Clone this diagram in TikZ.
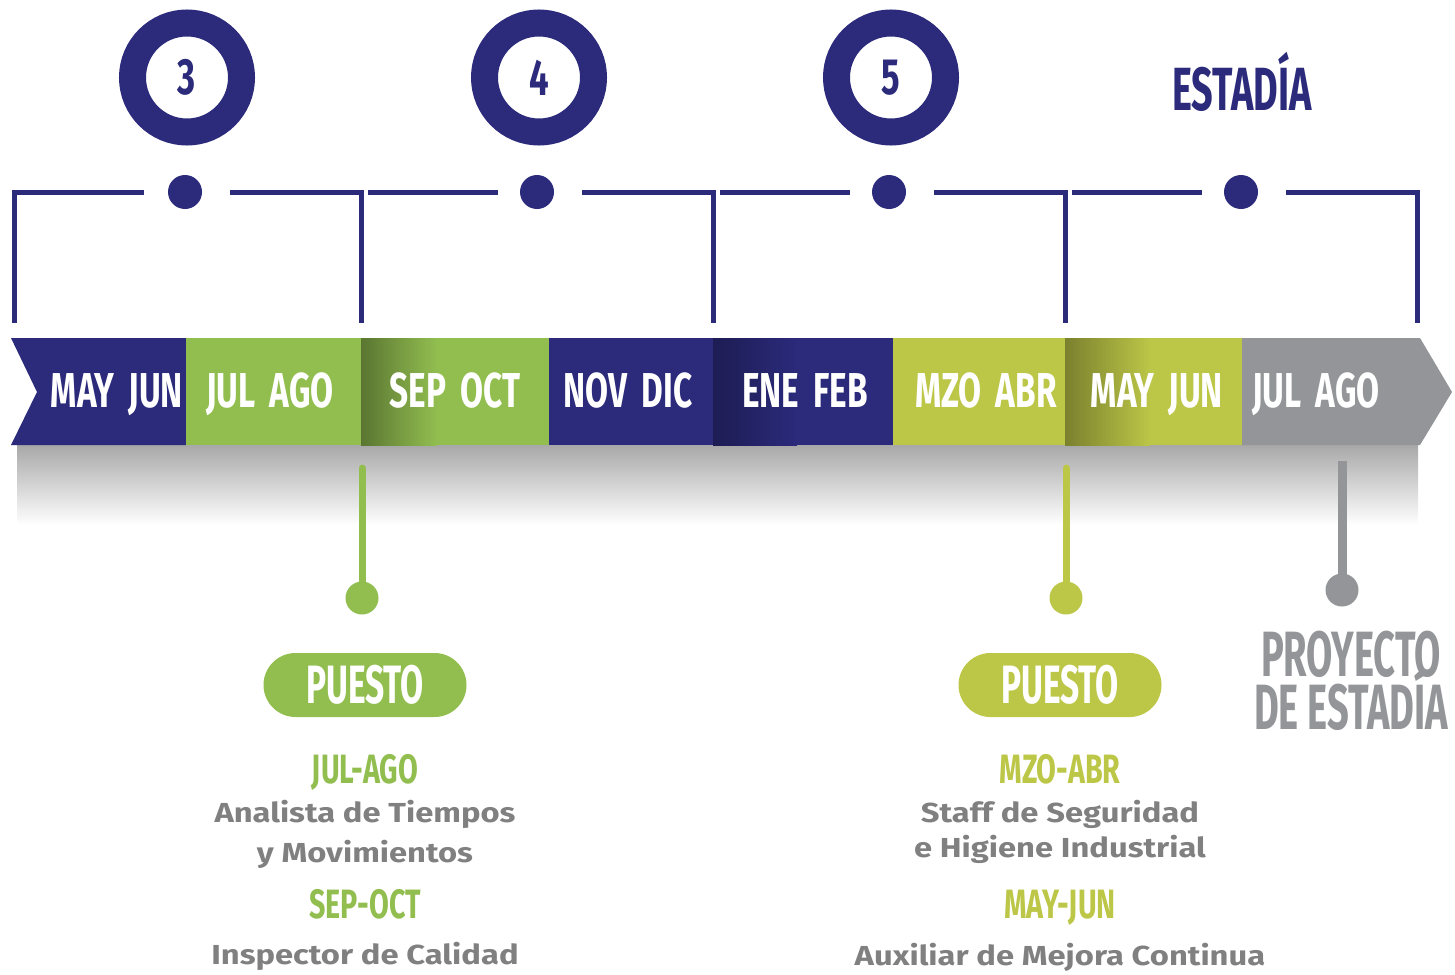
\documentclass[tikz,border=0pt]{standalone}
\usepackage{fontspec}
\newfontfamily\cond[FakeStretch=0.62]{Fira Sans}
\newfontfamily\condb[FakeStretch=0.68]{Fira Sans}
\newfontfamily\condp[FakeStretch=0.70]{Fira Sans}
\newfontfamily\condq[FakeStretch=0.595]{Fira Sans}
\newfontfamily\din[FakeStretch=1.19]{Fira Sans}
\definecolor{navy}{HTML}{2B2A7B}
\definecolor{lgreen}{HTML}{92BE50}
\definecolor{ygreen}{HTML}{BCC647}
\definecolor{mgray}{HTML}{939598}
\definecolor{tgray}{HTML}{808080}
\tikzset{
  ring/.style={circle, draw=navy, line width=27pt, minimum size=109pt, inner sep=0pt, text=navy, font=\condb\bfseries\fontsize{51}{51}\selectfont},
  navdot/.style={circle, fill=navy, minimum size=34pt, inner sep=0pt},
  brk/.style={draw=navy, line width=5pt},
  bandtxt/.style={anchor=base, inner sep=0pt, text=white, font=\condb\bfseries\fontsize{49}{49}\selectfont},
  pill/.style={minimum width=203pt, minimum height=64pt, rounded corners=32pt, inner sep=0pt, text=white, font=\cond\bfseries\fontsize{54}{54}\selectfont},
  period/.style={anchor=base, inner sep=0pt, font=\condp\bfseries\fontsize{41}{41}\selectfont},
  job/.style={anchor=base, inner sep=0pt, text=tgray, font=\din\bfseries\fontsize{27.5}{27.5}\selectfont},
  big/.style={anchor=base, inner sep=0pt, text=mgray, font=\condq\bfseries\fontsize{64}{64}\selectfont},
  stem/.style={line width=7pt},
  enddot/.style={circle, minimum size=33pt, inner sep=0pt},
}
\begin{document}
\begin{tikzpicture}[x=1pt,y=-1pt]
\useasboundingbox (0,0) rectangle (1455,974);
% shadow under the band
\shade[top color=black!34, bottom color=white] (17,445) rectangle (1418,525);
% band segments
\fill[navy] (11,338) -- (186,338) -- (186,445) -- (11,445) -- (37,392) -- cycle;
\fill[lgreen] (186,338) rectangle (361,445);
\fill[lgreen] (361,338) rectangle (549,445);
\shade[left color=lgreen!62!black, right color=lgreen] (361,338) rectangle (437,445);
\fill[navy] (549,338) rectangle (713,445);
\fill[navy] (713,338) rectangle (893,445);
\shade[left color=navy!68!black, right color=navy] (713,338) rectangle (797,445);
\fill[ygreen] (893,338) rectangle (1065,445);
\fill[ygreen] (1065,338) rectangle (1242,445);
\shade[left color=ygreen!65!black, right color=ygreen] (1065,338) rectangle (1150,445);
\fill[mgray] (1242,338) -- (1420,338) -- (1452,392) -- (1420,445) -- (1242,445) -- cycle;
% band labels
\node[bandtxt] (b1) at (117,407) {MAY\hspace{14pt}JUN};
\node[bandtxt] (b2) at (270,407) {JUL\hspace{14pt}AGO};
\node[bandtxt] (b3) at (455,407) {SEP\hspace{14pt}OCT};
\node[bandtxt] (b4) at (628,407) {NOV\hspace{14pt}DIC};
\node[bandtxt] (b5) at (805,407) {ENE\hspace{14pt}FEB};
\node[bandtxt] (b6) at (986,407) {MZO\hspace{14pt}ABR};
\node[bandtxt] (b7) at (1157,407) {MAY\hspace{14pt}JUN};
\node[bandtxt] (b8) at (1316,407) {JUL\hspace{14pt}AGO};
% rings
\node[ring] (r3) at (187,77.5) {3};
\node[ring] (r4) at (539,77.5) {4};
\node[ring] (r5) at (891,77.5) {5};
\node[anchor=base, inner sep=0pt, text=navy, font=\cond\bfseries\fontsize{61}{61}\selectfont] (est) at (1242,110) {ESTADÍA};
% bracket dots
\node[navdot] (d1) at (185,192) {};
\node[navdot] (d2) at (537,192) {};
\node[navdot] (d3) at (889,192) {};
\node[navdot] (d4) at (1241,192) {};
% bracket coordinates
\coordinate (v0) at (14,323);
\coordinate (h1a) at (144,192);
\coordinate (h1b) at (230,192);
\coordinate (v1) at (361,323);
\coordinate (h2a) at (368,192);
\coordinate (h2b) at (498,192);
\coordinate (h2c) at (582,192);
\coordinate (v2) at (713,323);
\coordinate (h3a) at (720,192);
\coordinate (h3b) at (850,192);
\coordinate (h3c) at (934,192);
\coordinate (v3) at (1065,323);
\coordinate (h4a) at (1072,192);
\coordinate (h4b) at (1202,192);
\coordinate (h4c) at (1286,192);
\coordinate (v4) at (1417,323);
\draw[brk] (v0) |- (h1a);
\draw[brk] (h1b) -| (v1);
\draw[brk] (h2a) -- (h2b);
\draw[brk] (h2c) -| (v2);
\draw[brk] (h3a) -- (h3b);
\draw[brk] (h3c) -| (v3);
\draw[brk] (h4a) -- (h4b);
\draw[brk] (h4c) -| (v4);
% stems and end dots
\node[enddot, fill=lgreen] (e1) at (362,598) {};
\node[enddot, fill=ygreen] (e2) at (1066,598) {};
\node[enddot, fill=mgray] (e3) at (1342,590) {};
\coordinate (s1) at (362,468);
\coordinate (s2) at (1066,468);
\coordinate (s3) at (1342,461);
\draw[stem, lgreen, line cap=round] (s1) -- (e1.center);
\draw[stem, ygreen, line cap=round] (s2) -- (e2.center);
\draw[line width=9pt, mgray] (s3) -- (e3.center);
% pills
\node[pill, fill=lgreen] (p1) at (365,685) {PUESTO};
\node[pill, fill=ygreen] (p2) at (1060,685) {PUESTO};
% left texts
\node[period, text=lgreen] (t1) at (365,783) {JUL-AGO};
\node[job] (t2) at (365,822) {Analista de Tiempos};
\node[job] (t3) at (365,862) {y Movimientos};
\node[period, text=lgreen] (t4) at (365,918) {SEP-OCT};
\node[job] (t5) at (365,964) {Inspector de Calidad};
% right texts
\node[period, text=ygreen] (u1) at (1060,783) {MZO-ABR};
\node[job] (u2) at (1060,822) {Staff de Seguridad};
\node[job] (u3) at (1060,857) {e Higiene Industrial};
\node[period, text=ygreen] (u4) at (1060,918) {MAY-JUN};
\node[job] (u5) at (1060,965) {Auxiliar de Mejora Continua};
% proyecto
\node[big] (pr1) at (1351,676) {PROYECTO};
\node[big] (pr2) at (1351,729) {DE ESTADÍA};
\end{tikzpicture}
\end{document}
